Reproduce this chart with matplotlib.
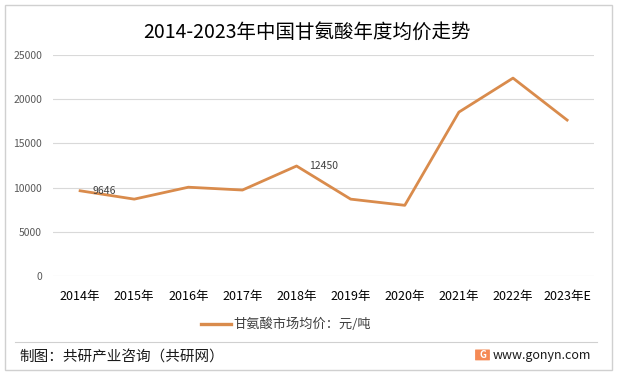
import matplotlib.pyplot as plt
from matplotlib.lines import Line2D
from matplotlib.patches import Rectangle, FancyBboxPatch

plt.rcParams["font.family"] = ["Noto Sans CJK SC", "DejaVu Sans"]

years = ["2014年", "2015年", "2016年", "2017年", "2018年",
         "2019年", "2020年", "2021年", "2022年", "2023年E"]
prices = [9646, 8700, 10050, 9730, 12450, 8700, 8000, 18550, 22400, 17650]
labeled = {0: "9646", 4: "12450"}
y_ticks = [0, 5000, 10000, 15000, 20000, 25000]

line_color = "#D98B4C"
grid_color = "#D9D9D9"
text_color = "#404040"

fig = plt.figure(figsize=(6.17, 3.75), dpi=100)
ax = fig.add_axes([0.086, 0.264, 0.877, 0.589])

x = list(range(len(years)))
ax.plot(x, prices, color=line_color, linewidth=2.0, zorder=3)
for i, txt in labeled.items():
    ax.annotate(txt, (x[i], prices[i]), xytext=(9, 0), textcoords="offset points",
                fontsize=7.5, color=text_color, va="center", ha="left")

ax.set_xlim(-0.5, len(years) - 0.5)
ax.set_ylim(0, 25000)
ax.set_yticks(y_ticks)
ax.set_yticklabels([str(v) for v in y_ticks], fontsize=7.5, color="#595959")
ax.set_xticks(x)
ax.set_xticklabels(years, fontsize=9, color="#000000")
ax.tick_params(axis="both", length=0)
ax.tick_params(axis="y", pad=8)
ax.tick_params(axis="x", pad=10)
ax.grid(axis="y", color=grid_color, linewidth=0.8)
ax.set_axisbelow(True)
for s in ax.spines.values():
    s.set_visible(False)

fig.text(0.497, 0.915, "2014-2023年中国甘氨酸年度均价走势", fontsize=14,
         ha="center", va="center", color="#000000")

handle = Line2D([], [], color=line_color, linewidth=2.4)
leg = ax.legend([handle], ["甘氨酸市场均价：元/吨"], loc="center",
                bbox_to_anchor=(0.43, -0.22), frameon=False,
                fontsize=9.5, handlelength=2.3, handletextpad=0.15)
for t in leg.get_texts():
    t.set_color(text_color)

# outer border and footer separator
fig.patches.append(Rectangle((0.008, 0.013), 0.984, 0.975, transform=fig.transFigure,
                             fill=False, edgecolor="#D0D0D0", linewidth=1.0))
fig.lines.append(Line2D([0.024, 0.968], [0.089, 0.089], transform=fig.transFigure,
                        color="#D0D0D0", linewidth=0.8))
fig.text(0.032, 0.05, "制图：共研产业咨询（共研网）", fontsize=10.5, ha="left", va="center",
         color="#1a1a1a")

# logo
fig.patches.append(FancyBboxPatch((0.771, 0.04), 0.022, 0.027, transform=fig.transFigure,
                                  boxstyle="round,pad=0.001", facecolor="#F58A55",
                                  edgecolor="none"))
fig.text(0.782, 0.054, "G", fontsize=7, fontweight="bold", color="white",
         ha="center", va="center")
fig.text(0.799, 0.051, "www.gonyn.com", fontsize=9, ha="left", va="center",
         color="#1a1a1a")

fig.savefig("out.png", dpi=100)
